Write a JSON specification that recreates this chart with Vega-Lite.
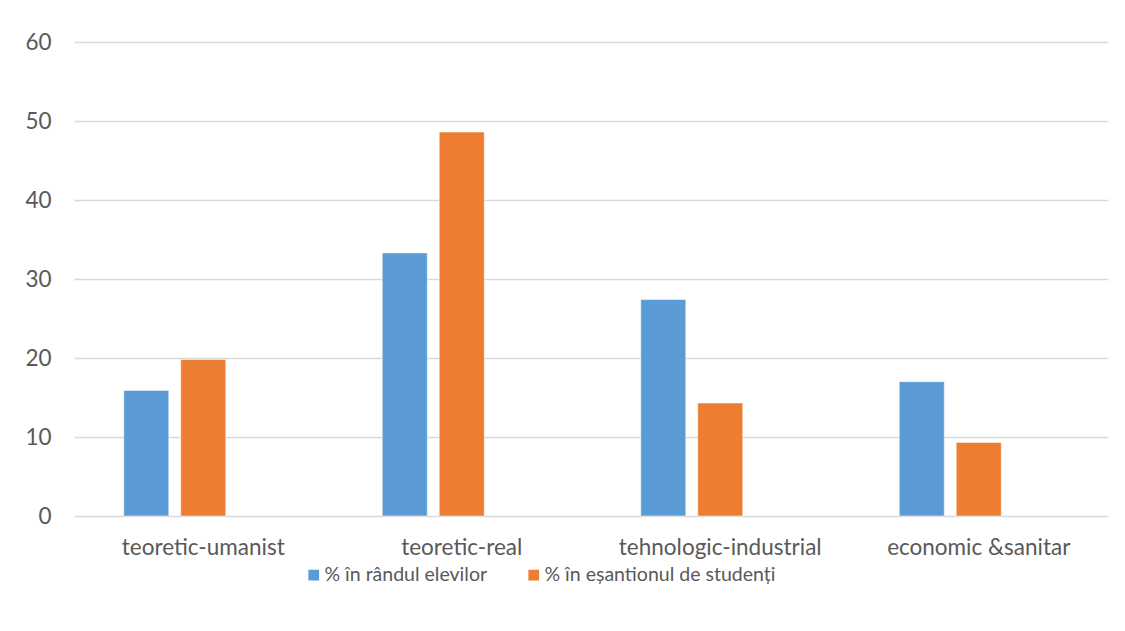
{
  "$schema": "https://vega.github.io/schema/vega-lite/v6.json",
  "autosize": {"type": "none"},
  "padding": {"left": 74, "top": 42, "right": 17, "bottom": 115},
  "width": 1034,
  "height": 474,
  "background": "white",
  "data": {"values": [
    {"profil": "teoretic-umanist", "serie": "% în rândul elevilor", "valoare": 15.9},
    {"profil": "teoretic-umanist", "serie": "% în eșantionul de studenți", "valoare": 19.8},
    {"profil": "teoretic-real", "serie": "% în rândul elevilor", "valoare": 33.3},
    {"profil": "teoretic-real", "serie": "% în eșantionul de studenți", "valoare": 48.6},
    {"profil": "tehnologic-industrial", "serie": "% în rândul elevilor", "valoare": 27.4},
    {"profil": "tehnologic-industrial", "serie": "% în eșantionul de studenți", "valoare": 14.3},
    {"profil": "economic &sanitar", "serie": "% în rândul elevilor", "valoare": 17.0},
    {"profil": "economic &sanitar", "serie": "% în eșantionul de studenți", "valoare": 9.3}
  ]},
  "mark": {"type": "bar", "stroke": "white", "strokeWidth": 0.5},
  "encoding": {
    "x": {
      "field": "profil", "type": "nominal", "sort": null,
      "scale": {"paddingInner": 0.385, "paddingOuter": 0.1925},
      "axis": {"title": null, "labelAngle": 0, "ticks": false, "domain": false, "labelPadding": 20,
               "labelFont": "Lato", "labelFontSize": 22.5, "labelColor": "#595959", "grid": false, "labelLimit": 400}
    },
    "xOffset": {
      "field": "serie", "type": "nominal",
      "scale": {"domain": ["% în rândul elevilor", "% în eșantionul de studenți", "_"], "paddingInner": 0.21, "paddingOuter": 0}
    },
    "y": {
      "field": "valoare", "type": "quantitative",
      "scale": {"domain": [0, 60], "nice": false},
      "axis": {"title": null, "values": [0, 10, 20, 30, 40, 50, 60], "ticks": false, "domain": false,
               "labelPadding": 23, "labelFont": "Lato", "labelFontSize": 22.5, "labelColor": "#595959",
               "gridColor": "#d9d9d9", "gridWidth": 1.3}
    },
    "color": {
      "field": "serie", "type": "nominal",
      "scale": {"domain": ["% în rândul elevilor", "% în eșantionul de studenți"], "range": ["#5B9BD5", "#ED7D31"]},
      "legend": {
        "title": null, "orient": "none", "direction": "horizontal", "legendX": 230, "legendY": 523,
        "symbolType": "square", "symbolSize": 115, "symbolStrokeWidth": 0, "labelOffset": 1, "labelLimit": 400,
        "columnPadding": 36, "labelFont": "Lato", "labelFontSize": 19.5, "labelColor": "#595959"
      }
    }
  },
  "config": {"view": {"stroke": null}}
}
